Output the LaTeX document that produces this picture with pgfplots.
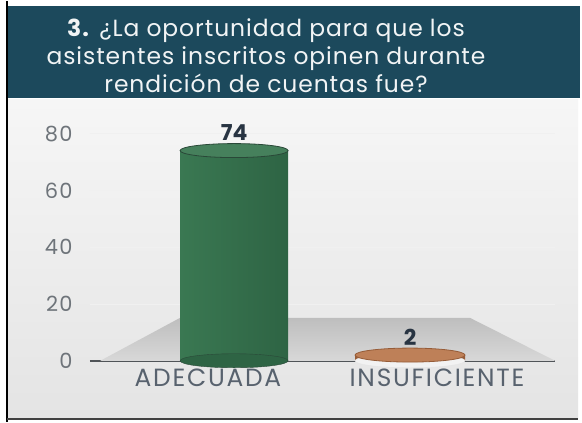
\documentclass[border=0pt]{standalone}
\usepackage{fontspec}
\setmainfont{Poppins}
\usepackage{pgfplots}
\usepackage{pgfplotstable}
\usetikzlibrary{backgrounds}
\pgfplotsset{compat=1.18}
\definecolor{titlebg}{RGB}{28,73,92}
\definecolor{paneltop}{RGB}{246,246,246}
\definecolor{panelbot}{RGB}{228,228,228}
\definecolor{floortop}{RGB}{190,190,190}
\definecolor{floorbot}{RGB}{216,216,216}
\definecolor{axisgray}{RGB}{80,84,88}
\definecolor{ticktext}{RGB}{110,116,122}
\definecolor{cattext}{RGB}{88,98,110}
\definecolor{valtext}{RGB}{40,52,66}
\definecolor{cylL}{RGB}{58,120,82}
\definecolor{cylM}{RGB}{122,180,140}
\definecolor{cylR}{RGB}{46,100,68}
\definecolor{cylTop}{RGB}{70,128,92}
\definecolor{cylEdge}{RGB}{42,72,56}
\definecolor{discL}{RGB}{150,92,56}
\definecolor{discM}{RGB}{210,150,108}
\definecolor{discTop}{RGB}{190,128,88}
\pgfdeclareplotmark{cyltop}{%
  \pgfpathellipse{\pgfpointorigin}{\pgfqpoint{54bp}{0pt}}{\pgfqpoint{0pt}{7bp}}%
  \pgfusepathqfillstroke}
\pgfdeclareplotmark{disctop}{%
  \pgfpathellipse{\pgfpointorigin}{\pgfqpoint{55bp}{0pt}}{\pgfqpoint{0pt}{7bp}}%
  \pgfusepathqfillstroke}
\pgfplotstableread{
x y
0.114 74
}\tadecuada
\pgfplotstableread{
x y
0.882 2
}\tinsuf
\begin{document}
\begin{tikzpicture}[x=1bp,y=1bp]
\begin{axis}[
  scale only axis, width=465bp, height=227.2bp,
  xmin=-0.515, xmax=1.515, ymin=0, ymax=80,
  axis x line*=bottom, axis y line*=left,
  y axis line style={draw=none},
  x axis line style={draw=axisgray, line width=1.6bp, -},
  major tick length=0,
  ytick={0,20,40,60,80},
  xtick={0,1}, xticklabels={ADECUADA, INSUFICIENTE},
  ymajorgrids, grid style={draw=white!88!gray, line width=0.6bp},
  yticklabel style={text=ticktext, font=\fontsize{21}{22}\selectfont\addfontfeature{LetterSpace=6}, xshift=-14bp},
  xticklabel style={text=cattext, font=\fontsize{25}{26}\selectfont\addfontfeature{LetterSpace=7}, yshift=-5bp},
  /pgf/number format/assume math mode=true,
  clip=false,
]
\coordinate (O) at (rel axis cs:0,0);
% floor
\addplot[draw=none, top color=floortop, bottom color=floorbot, forget plot]
  coordinates {(-0.47,0) (-0.122,15.1) (1.144,15.1) (1.515,0)} -- cycle;
% ADECUADA cylinder
\addplot[only marks, mark=cyltop, mark options={fill=cylR, draw=cylEdge}, forget plot]
  table[x=x, y expr=0] {\tadecuada};
\addplot[ybar, bar width=108bp, bar shift=0pt, draw=none,
  left color=cylL, middle color=cylM, right color=cylR, forget plot]
  table[x=x, y=y] {\tadecuada};
\addplot[only marks, mark=cyltop, mark options={fill=cylTop, draw=cylEdge, line width=0.8bp},
  nodes near coords, point meta=explicit symbolic,
  every node near coord/.append style={text=valtext, font=\bfseries\fontsize{22}{22}\selectfont, yshift=6bp},
  forget plot]
  table[x=x, y=y, meta=y] {\tadecuada};
% INSUFICIENTE disc
\addplot[only marks, mark=disctop, mark options={fill=white!90!gray, draw=white!80!gray}, forget plot]
  table[x=x, y expr=0] {\tinsuf};
\addplot[ybar, bar width=110bp, bar shift=0pt, draw=none,
  left color=discL, middle color=discM, right color=discL, forget plot]
  table[x=x, y=y] {\tinsuf};
\addplot[only marks, mark=disctop, mark options={fill=discTop, draw=discL, line width=0.8bp},
  nodes near coords, point meta=explicit symbolic,
  every node near coord/.append style={text=valtext, font=\bfseries\fontsize{22}{22}\selectfont, yshift=6bp},
  forget plot]
  table[x=x, y=y, meta=y] {\tinsuf};
\end{axis}
\begin{scope}[on background layer, shift={(O)}, shift={(-90,-61)}]
\fill[white] (0,0) rectangle (582,421);
\shade[top color=paneltop, bottom color=panelbot] (7,3) rectangle (578,322);
\fill[titlebg] (7,324) rectangle (580,416);
\draw[black, line width=1.5bp] (7,0)--(7,421);
\draw[black!75, line width=1.5bp] (7,3)--(578,3);
\end{scope}
\begin{scope}[shift={(O)}, shift={(-90,-61)}]
\node[align=center, text=white!94!titlebg, font=\fontsize{23.5}{28}\selectfont\addfontfeature{LetterSpace=4}] at (266,366)
  {\textbf{3.} ¿La oportunidad para que los\\asistentes inscritos opinen durante\\rendición de cuentas fue?};
\end{scope}
\end{tikzpicture}
\end{document}
